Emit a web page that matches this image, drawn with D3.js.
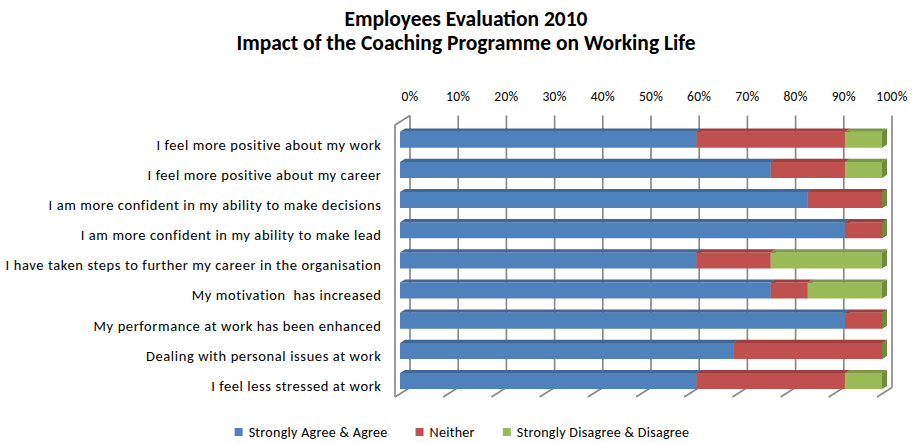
<!DOCTYPE html>
<html>
<head>
<meta charset="utf-8">
<script src="https://cdn.jsdelivr.net/npm/d3@7"></script>
<style>
  html, body { margin: 0; padding: 0; background: #fff; }
  svg { display: block; }
  text { font-family: Carlito, Calibri, Lato, "Open Sans", sans-serif; fill: #000; white-space: pre; }
</style>
</head>
<body>
<svg id="chart" width="912" height="443"></svg>
<script>
// Survey statements, top to bottom
const categories = [
  "I feel more positive about my work",
  "I feel more positive about my career",
  "I am more confident in my ability to make decisions",
  "I am more confident in my ability to make lead",
  "I have taken steps to further my career in the organisation",
  "My motivation  has increased",
  "My performance at work has been enhanced",
  "Dealing with personal issues at work",
  "I feel less stressed at work"
];

// Share of respondents (%) per answer group
const agree    = [61.5, 76.9, 84.6, 92.3, 61.5, 76.9, 92.3, 69.2, 61.5];
const neither  = [30.8, 15.4, 15.4,  7.7, 15.4,  7.7,  7.7, 30.8, 30.8];
const disagree = [ 7.7,  7.7,  0.0,  0.0, 23.1, 15.4,  0.0,  0.0,  7.7];

const seriesNames = ["Strongly Agree & Agree", "Neither", "Strongly Disagree & Disagree"];
const tickValues = [0, 10, 20, 30, 40, 50, 60, 70, 80, 90, 100];
const titleLines = ["Employees Evaluation 2010", "Impact of the Coaching Programme on Working Life"];

const colors = {
  front: ["#4F81BD", "#C0504D", "#9BBB59"],
  top:   ["#3F6898", "#9C3F3D", "#7D9848"],
  side:  ["#385D89", "#8C3937", "#708A40"]
};

const svg = d3.select("#chart");

// 3D box layout: front plane x / y, plus an oblique depth vector
const depthX = 15, depthY = -9.5;
const x = d3.scaleLinear().domain([0, 100]).range([395, 877]);
const frontTop = 125, frontBottom = 397;
const y = d3.scaleBand().domain(categories).range([frontTop + 0.5, frontBottom]).padding(0);

// project a point given a front-plane position and a depth fraction (0 front, 1 back)
const P = (px, py, d) => [px + d * depthX, py + d * depthY];
const poly = pts => pts.map(p => p.join(",")).join(" ");

const gridColor = "#8a8a8a";

// Back wall gridlines and floor ticks
const grid = svg.append("g");
tickValues.forEach(t => {
  const bt = P(x(t), frontTop, 1), bb = P(x(t), frontBottom, 1), fb = P(x(t), frontBottom, 0);
  grid.append("line").attr("x1", bt[0]).attr("y1", bt[1]).attr("x2", bb[0]).attr("y2", bb[1])
    .attr("stroke", gridColor).attr("stroke-width", 1.7);
  grid.append("line").attr("x1", bb[0]).attr("y1", bb[1]).attr("x2", fb[0]).attr("y2", fb[1])
    .attr("stroke", gridColor).attr("stroke-width", 1.7);
});

// Left side wall outline
{
  const ft = P(x(0), frontTop, 0), fb = P(x(0), frontBottom, 0), bt = P(x(0), frontTop, 1);
  grid.append("polyline")
    .attr("points", poly([fb, ft, bt]))
    .attr("fill", "none").attr("stroke", gridColor).attr("stroke-width", 1.7);
}

// Percent axis labels across the top
svg.append("g").selectAll("text").data(tickValues).join("text")
  .attr("x", d => x(d) + depthX)
  .attr("y", 96)
  .attr("text-anchor", "middle")
  .attr("dominant-baseline", "central")
  .attr("font-size", 13.5)
  .attr("letter-spacing", 0.3)
  .text(d => d + "%");

// Stacked 3D bars
const stackData = categories.map((c, i) => ({ cat: c, v: [agree[i], neither[i], disagree[i]] }));
const barH = 16, barOffset = 9.4;
const d0 = 1 / 3, d1 = 2 / 3;

const bars = svg.append("g");
stackData.forEach(row => {
  const yt = y(row.cat) + barOffset, yb = yt + barH;
  let acc = 0;
  row.v.forEach((val, s) => {
    const xa = x(acc), xb = x(acc + val);
    acc += val;
    const g = bars.append("g");
    // front face
    const f1 = P(xa, yt, d0), f2 = P(xb, yt, d0), f3 = P(xb, yb, d0), f4 = P(xa, yb, d0);
    // top face
    const t1 = P(xa, yt, d1), t2 = P(xb, yt, d1);
    // right side face
    const s3 = P(xb, yb, d1);
    if (val > 0) {
      g.append("polygon").attr("points", poly([f1, f2, f3, f4])).attr("fill", colors.front[s]);
      g.append("polygon").attr("points", poly([f1, t1, t2, f2])).attr("fill", colors.top[s]);
    }
    g.append("polygon").attr("points", poly([f2, t2, s3, f3])).attr("fill", colors.side[s]);
  });
});

// Category labels
svg.append("g").selectAll("text").data(categories).join("text")
  .attr("x", 381.5)
  .attr("y", d => y(d) + 19)
  .attr("text-anchor", "end")
  .attr("dominant-baseline", "central")
  .attr("font-size", 14.5)
  .attr("letter-spacing", 0.6)
  .text(d => d);

// Title
svg.append("g").selectAll("text").data(titleLines).join("text")
  .attr("x", 466)
  .attr("y", (d, i) => 26 + i * 24)
  .attr("text-anchor", "middle")
  .attr("font-size", 21.5)
  .attr("font-weight", "bold")
  .text(d => d);

// Legend, centred under the plot
const legend = svg.append("g");
const items = seriesNames.map((name, i) => {
  const g = legend.append("g");
  g.append("rect").attr("width", 8).attr("height", 8).attr("y", -4).attr("fill", colors.front[i]);
  const t = g.append("text").attr("x", 14).attr("y", 0).attr("dominant-baseline", "central")
    .attr("font-size", 14).attr("letter-spacing", 0.3).text(name);
  return { g, w: 14 + t.node().getComputedTextLength() };
});
const gap = 28;
const total = d3.sum(items, d => d.w) + gap * (items.length - 1);
let lx = 462 - total / 2;
items.forEach(it => {
  it.g.attr("transform", `translate(${lx},432)`);
  lx += it.w + gap;
});
</script>
</body>
</html>
